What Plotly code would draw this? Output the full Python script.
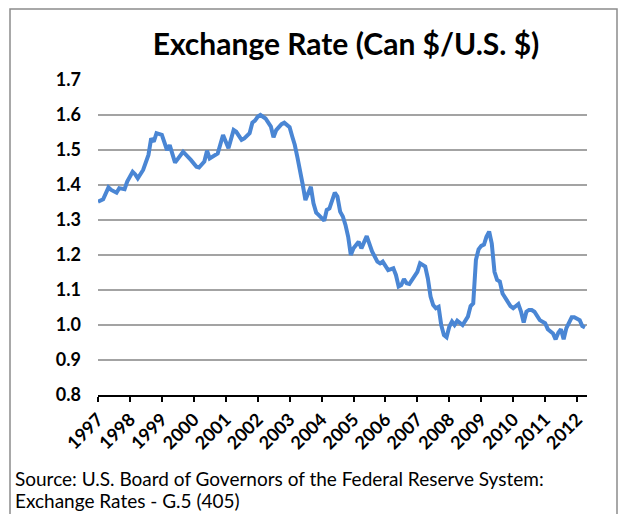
import plotly.graph_objects as go

# ---- data (monthly CAD per USD) ----
dates = [
    "1997-01", "1997-03", "1997-05", "1997-06", "1997-08", "1997-09", "1997-11", "1997-12",
    "1998-02", "1998-03", "1998-04", "1998-06", "1998-08", "1998-09", "1998-10", "1998-11",
    "1999-01", "1999-02", "1999-03", "1999-04", "1999-06", "1999-09", "1999-11", "1999-12",
    "2000-02", "2000-03", "2000-05", "2000-06", "2000-07", "2000-09", "2000-10", "2000-12",
    "2001-01", "2001-02", "2001-04", "2001-05", "2001-07", "2001-08", "2001-10", "2001-11", "2001-12",
    "2002-01", "2002-02", "2002-04", "2002-06", "2002-07", "2002-08", "2002-10", "2002-11",
    "2003-01", "2003-02", "2003-03", "2003-04", "2003-05", "2003-06", "2003-07", "2003-08",
    "2003-09", "2003-10", "2003-11", "2003-12",
    "2004-02", "2004-03", "2004-04", "2004-06", "2004-07", "2004-08", "2004-09", "2004-10",
    "2004-11", "2004-12",
    "2005-01", "2005-03", "2005-04", "2005-06", "2005-07", "2005-08", "2005-10", "2005-11", "2005-12",
    "2006-01", "2006-02", "2006-04", "2006-05", "2006-06", "2006-07", "2006-08", "2006-09",
    "2006-10", "2006-11",
    "2007-01", "2007-02", "2007-04", "2007-05", "2007-06", "2007-07", "2007-08", "2007-09",
    "2007-10", "2007-11", "2007-12",
    "2008-01", "2008-02", "2008-03", "2008-04", "2008-06", "2008-07", "2008-08", "2008-09",
    "2008-10", "2008-11", "2008-12",
    "2009-01", "2009-02", "2009-03", "2009-04", "2009-05", "2009-06", "2009-07", "2009-08",
    "2009-09", "2009-11", "2009-12",
    "2010-01", "2010-03", "2010-04", "2010-05", "2010-06", "2010-07", "2010-08", "2010-09", "2010-11",
    "2011-01", "2011-02", "2011-04", "2011-05", "2011-06", "2011-07", "2011-08", "2011-09",
    "2011-10", "2011-11", "2011-12",
    "2012-02", "2012-03", "2012-04",
]
rates = [
    1.352, 1.359, 1.393, 1.386, 1.378, 1.391, 1.388, 1.410,
    1.438, 1.431, 1.419, 1.443, 1.486, 1.533, 1.524, 1.548,
    1.543, 1.519, 1.500, 1.514, 1.464, 1.495, 1.476, 1.471,
    1.452, 1.450, 1.467, 1.498, 1.476, 1.486, 1.490, 1.543,
    1.524, 1.505, 1.557, 1.552, 1.529, 1.533, 1.548, 1.578, 1.584,
    1.595, 1.600, 1.590, 1.567, 1.536, 1.557, 1.574, 1.578,
    1.565, 1.538, 1.515, 1.478, 1.443, 1.400, 1.357, 1.376,
    1.395, 1.348, 1.321, 1.314,
    1.298, 1.329, 1.333, 1.378, 1.367, 1.324, 1.310, 1.286,
    1.252, 1.200,
    1.219, 1.238, 1.219, 1.254, 1.229, 1.210, 1.181, 1.176, 1.181,
    1.167, 1.157, 1.162, 1.143, 1.110, 1.114, 1.131, 1.119,
    1.117, 1.129,
    1.152, 1.176, 1.167, 1.133, 1.081, 1.057, 1.048, 1.052,
    1.000, 0.971, 0.965,
    0.995, 1.010, 1.000, 1.012, 1.000, 1.014, 1.024, 1.054,
    1.062, 1.186, 1.216,
    1.226, 1.230, 1.252, 1.267, 1.233, 1.152, 1.129, 1.124,
    1.090, 1.062, 1.054,
    1.048, 1.060, 1.038, 1.007, 1.038, 1.043, 1.043, 1.038, 1.014,
    1.005, 0.988, 0.976, 0.959, 0.978, 0.988, 0.959, 0.991,
    1.010, 1.022, 1.022,
    1.014, 0.997, 0.993,
]
year_labels = [str(y) for y in range(1997, 2013)]
y_ticks = [0.8, 0.9, 1.0, 1.1, 1.2, 1.3, 1.4, 1.5, 1.6, 1.7]

title_text = "Exchange Rate (Can $/U.S. $)"
source_lines = [
    "Source: U.S. Board of Governors of the Federal Reserve System:",
    "Exchange Rates - G.5 (405)",
]

# ---- layout geometry (page body adds an 8px offset) ----
OFF = 8
W, H = 628 - OFF, 514 - OFF
L, R, T, B = 98 - OFF, 41, 80 - OFF, 119
PW, PH = W - L - R, H - T - B


def px_x(x):
    return (x - OFF - L) / PW


def px_y(y):
    return (H - B - (y - OFF)) / PH


FONT = "Lato, 'Open Sans', sans-serif"

fig = go.Figure()
fig.add_trace(go.Scatter(
    x=[d + "-01" for d in dates],
    y=rates,
    mode="lines",
    line=dict(color="#4A86D4", width=4),
    hoverinfo="skip",
    showlegend=False,
))

annotations = []
for i, line in enumerate(source_lines):
    annotations.append(dict(
        text=line,
        xref="paper", yref="paper",
        x=px_x(13), y=px_y(478 + 22 * i),
        xanchor="left", yanchor="middle", align="left",
        showarrow=False,
        font=dict(family=FONT, size=19, color="black"),
    ))

fig.update_layout(
    width=W, height=H,
    margin=dict(l=L, r=R, t=T, b=B),
    paper_bgcolor="white",
    plot_bgcolor="white",
    font=dict(family=FONT, color="black"),
    title=dict(
        text="<b>" + title_text + "</b>",
        font=dict(family=FONT, size=30, color="black"),
        x=(346 - OFF) / W, xanchor="center",
        y=1 - (44 - OFF) / H, yanchor="middle",
        xref="container", yref="container",
    ),
    xaxis=dict(
        type="date",
        range=["1997-01-01", "2012-04-24"],
        tickvals=[y + "-01-01" for y in year_labels],
        ticktext=["<b>" + y + "</b>" for y in year_labels],
        tickangle=-45,
        tickfont=dict(family=FONT, size=18, color="black"),
        ticks="outside", ticklen=5, tickwidth=1.5, tickcolor="black",
        showline=True, linecolor="black", linewidth=2,
        showgrid=False, zeroline=False,
    ),
    yaxis=dict(
        range=[0.8, 1.7],
        tickvals=y_ticks,
        ticktext=["<b>%.1f</b>" % v for v in y_ticks],
        tickfont=dict(family=FONT, size=18, color="black"),
        showgrid=True, gridcolor="#A3A3A3", gridwidth=1.5,
        zeroline=False, showline=False,
        ticks="", ticklabelstandoff=16,
    ),
    shapes=[dict(
        type="rect", xref="paper", yref="paper",
        x0=px_x(10), x1=px_x(617), y0=px_y(530), y1=px_y(9),
        line=dict(color="#8C8C8C", width=1.5),
        fillcolor="rgba(0,0,0,0)", layer="below",
    )],
    annotations=annotations,
)

fig.write_html("out.html")
